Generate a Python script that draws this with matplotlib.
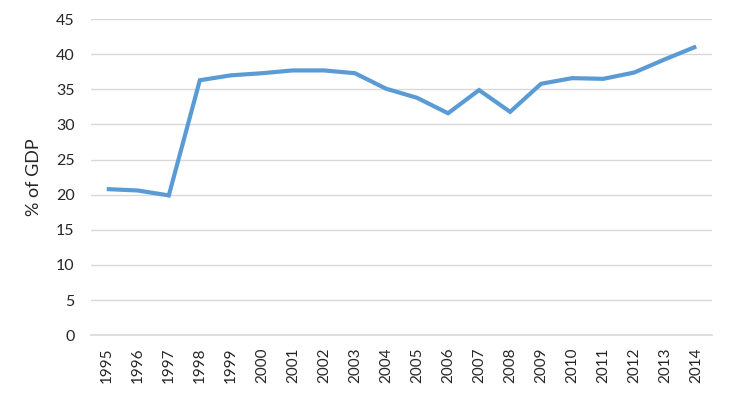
import matplotlib.pyplot as plt

# Values (% of GDP)
years = [str(y) for y in range(1995, 2015)]
share = [20.8, 20.6, 19.9, 36.3, 37.0, 37.3, 37.7, 37.7, 37.3, 35.1,
         33.8, 31.6, 34.9, 31.8, 35.8, 36.6, 36.5, 37.4, 39.3, 41.1]
y_ticks = list(range(0, 50, 5))

plt.rcParams["font.family"] = ["Lato", "DejaVu Sans"]

fig = plt.figure(figsize=(7.3, 3.99), dpi=100)
ax = fig.add_axes([0.125, 0.160, 0.850, 0.792])

x = list(range(len(years)))
ax.plot(x, share, color="#5B9BD5", linewidth=3.0, solid_joinstyle="miter",
        solid_capstyle="butt", zorder=3)

ax.set_xlim(-0.5, len(years) - 0.5)
ax.set_ylim(0, 45)
ax.set_yticks(y_ticks)
ax.set_yticklabels([str(t) for t in y_ticks], fontsize=11.5, color="#262626")
ax.set_xticks(x)
ax.set_xticklabels(years, rotation=90, fontsize=11, color="#262626")
ax.tick_params(axis="both", length=0)
ax.tick_params(axis="y", pad=12)
ax.tick_params(axis="x", pad=9)

ax.grid(axis="y", color="#D9D9D9", linewidth=1.0, zorder=0)
ax.axhline(0, color="#D9D9D9", linewidth=1.2, zorder=1, clip_on=False)
for side in ["top", "right", "left", "bottom"]:
    ax.spines[side].set_visible(False)

ax.set_ylabel("% of GDP", fontsize=13, color="#262626", labelpad=10)

fig.savefig("out.png", dpi=100)
